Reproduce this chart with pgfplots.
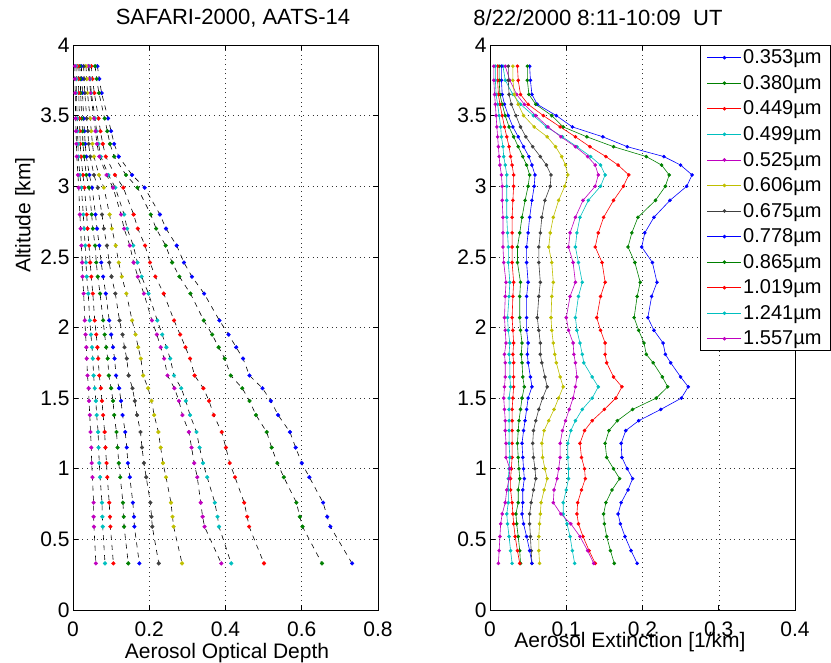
\documentclass[border=0pt]{standalone}
\usepackage{fontspec}
\setmainfont{Liberation Sans}
\usepackage{pgfplots}
\usepackage{pgfplotstable}
\pgfplotsset{compat=1.18}

% MATLAB-style line colours
\definecolor{mb}{rgb}{0,0,1}
\definecolor{mg}{rgb}{0,0.5,0}
\definecolor{mr}{rgb}{1,0,0}
\definecolor{mc}{rgb}{0,0.75,0.75}
\definecolor{mm}{rgb}{0.75,0,0.75}
\definecolor{my}{rgb}{0.75,0.75,0}
\definecolor{mk}{rgb}{0.25,0.25,0.25}

% aerosol optical depth, one column per wavelength
\pgfplotstableread{
alt  a1    a2    a3    a4    a5    a6    a7    a8    a9    a10   a11   a12
3.85 0.064 0.058 0.048 0.042 0.040 0.034 0.028 0.022 0.018 0.013 0.008 0.005
3.76 0.069 0.062 0.051 0.045 0.043 0.036 0.029 0.023 0.019 0.014 0.009 0.005
3.66 0.075 0.068 0.056 0.048 0.046 0.038 0.031 0.025 0.020 0.015 0.009 0.006
3.48 0.092 0.083 0.067 0.058 0.055 0.045 0.036 0.028 0.023 0.017 0.011 0.007
3.39 0.100 0.090 0.072 0.062 0.059 0.048 0.039 0.030 0.025 0.018 0.012 0.008
3.30 0.108 0.097 0.078 0.067 0.063 0.051 0.041 0.032 0.026 0.019 0.013 0.009
3.21 0.120 0.108 0.086 0.073 0.069 0.055 0.045 0.035 0.029 0.021 0.014 0.010
3.08 0.155 0.139 0.110 0.093 0.088 0.068 0.055 0.043 0.035 0.026 0.018 0.013
2.99 0.188 0.169 0.132 0.111 0.105 0.081 0.065 0.050 0.042 0.030 0.022 0.015
2.80 0.228 0.204 0.159 0.134 0.126 0.096 0.076 0.059 0.049 0.036 0.027 0.018
2.70 0.244 0.218 0.170 0.142 0.134 0.102 0.081 0.063 0.052 0.038 0.029 0.020
2.58 0.272 0.243 0.189 0.158 0.149 0.112 0.089 0.069 0.058 0.042 0.032 0.022
2.46 0.291 0.260 0.202 0.169 0.159 0.120 0.095 0.074 0.061 0.045 0.034 0.024
2.36 0.312 0.279 0.216 0.180 0.170 0.128 0.101 0.079 0.065 0.048 0.036 0.025
2.24 0.344 0.308 0.238 0.198 0.186 0.140 0.111 0.086 0.071 0.052 0.040 0.028
2.05 0.384 0.343 0.265 0.221 0.207 0.155 0.122 0.095 0.079 0.057 0.044 0.031
1.95 0.408 0.365 0.281 0.234 0.220 0.164 0.130 0.100 0.083 0.061 0.047 0.033
1.86 0.428 0.382 0.295 0.245 0.230 0.171 0.135 0.105 0.087 0.064 0.050 0.035
1.78 0.446 0.398 0.307 0.255 0.239 0.178 0.141 0.109 0.091 0.066 0.052 0.036
1.66 0.463 0.414 0.319 0.265 0.248 0.184 0.146 0.113 0.094 0.069 0.054 0.038
1.57 0.497 0.444 0.342 0.284 0.266 0.197 0.156 0.121 0.100 0.073 0.057 0.041
1.48 0.519 0.463 0.357 0.296 0.278 0.206 0.162 0.126 0.105 0.076 0.060 0.042
1.38 0.538 0.480 0.369 0.307 0.287 0.213 0.168 0.130 0.108 0.079 0.062 0.044
1.26 0.569 0.508 0.390 0.324 0.304 0.224 0.177 0.137 0.114 0.083 0.066 0.046
1.15 0.584 0.521 0.401 0.332 0.311 0.230 0.181 0.141 0.117 0.085 0.067 0.048
1.04 0.600 0.536 0.411 0.341 0.318 0.236 0.186 0.144 0.120 0.088 0.069 0.049
0.94 0.620 0.553 0.425 0.352 0.326 0.244 0.192 0.149 0.124 0.090 0.071 0.051
0.76 0.656 0.586 0.449 0.372 0.335 0.257 0.203 0.157 0.131 0.095 0.076 0.054
0.66 0.667 0.595 0.457 0.379 0.340 0.261 0.206 0.160 0.133 0.097 0.077 0.054
0.59 0.675 0.602 0.462 0.383 0.345 0.264 0.208 0.161 0.134 0.098 0.078 0.055
0.33 0.732 0.653 0.501 0.415 0.389 0.286 0.225 0.174 0.145 0.106 0.084 0.060
}\aod

% aerosol extinction [1/km]
\pgfplotstableread{
alt  e1    e2    e3    e4    e5    e6    e7    e8    e9    e10   e11   e12
3.85 0.052 0.049 0.036 0.017 0.020 0.030 0.024 0.015 0.012 0.010 0.007 0.005
3.75 0.053 0.049 0.037 0.020 0.026 0.030 0.024 0.015 0.012 0.010 0.007 0.005
3.65 0.055 0.051 0.040 0.030 0.035 0.032 0.025 0.016 0.013 0.011 0.008 0.006
3.58 0.062 0.060 0.050 0.040 0.045 0.037 0.028 0.019 0.016 0.013 0.010 0.007
3.50 0.087 0.081 0.070 0.057 0.060 0.044 0.034 0.024 0.020 0.016 0.012 0.008
3.42 0.108 0.096 0.092 0.074 0.076 0.058 0.040 0.030 0.025 0.019 0.014 0.009
3.35 0.148 0.127 0.112 0.095 0.093 0.075 0.047 0.037 0.031 0.022 0.015 0.010
3.28 0.180 0.162 0.131 0.114 0.112 0.086 0.056 0.044 0.037 0.025 0.017 0.011
3.21 0.228 0.205 0.152 0.132 0.128 0.094 0.066 0.051 0.043 0.027 0.018 0.012
3.15 0.250 0.225 0.168 0.145 0.138 0.099 0.074 0.055 0.048 0.029 0.020 0.013
3.08 0.265 0.235 0.182 0.151 0.142 0.102 0.080 0.059 0.052 0.031 0.022 0.015
3.00 0.258 0.230 0.175 0.145 0.138 0.098 0.079 0.058 0.050 0.031 0.022 0.016
2.90 0.236 0.217 0.162 0.129 0.122 0.090 0.072 0.055 0.046 0.030 0.022 0.016
2.78 0.215 0.194 0.149 0.118 0.112 0.083 0.068 0.052 0.042 0.029 0.022 0.017
2.67 0.203 0.186 0.142 0.114 0.105 0.079 0.066 0.050 0.039 0.029 0.023 0.017
2.57 0.199 0.181 0.138 0.112 0.103 0.077 0.064 0.048 0.036 0.029 0.024 0.017
2.46 0.213 0.190 0.147 0.116 0.109 0.081 0.064 0.048 0.036 0.029 0.024 0.018
2.32 0.219 0.197 0.151 0.121 0.112 0.083 0.066 0.050 0.040 0.031 0.026 0.021
2.22 0.212 0.193 0.145 0.116 0.105 0.081 0.064 0.048 0.039 0.030 0.025 0.020
2.07 0.207 0.189 0.140 0.112 0.100 0.080 0.062 0.048 0.039 0.029 0.023 0.019
1.98 0.215 0.195 0.145 0.114 0.103 0.081 0.064 0.048 0.040 0.030 0.024 0.020
1.89 0.227 0.202 0.151 0.118 0.109 0.083 0.066 0.050 0.042 0.031 0.026 0.021
1.81 0.230 0.205 0.151 0.121 0.110 0.085 0.066 0.049 0.041 0.030 0.025 0.019
1.75 0.237 0.214 0.153 0.123 0.112 0.087 0.068 0.050 0.042 0.031 0.026 0.020
1.65 0.250 0.226 0.162 0.134 0.114 0.092 0.072 0.053 0.043 0.031 0.026 0.020
1.58 0.260 0.233 0.173 0.142 0.112 0.096 0.075 0.055 0.045 0.031 0.027 0.019
1.50 0.251 0.218 0.165 0.134 0.109 0.090 0.069 0.050 0.042 0.030 0.025 0.018
1.42 0.224 0.187 0.150 0.121 0.104 0.084 0.064 0.048 0.040 0.029 0.025 0.019
1.34 0.195 0.167 0.134 0.112 0.099 0.077 0.060 0.046 0.038 0.029 0.025 0.020
1.27 0.178 0.156 0.124 0.106 0.095 0.071 0.057 0.044 0.037 0.029 0.025 0.020
1.18 0.172 0.151 0.118 0.102 0.092 0.068 0.056 0.042 0.036 0.029 0.025 0.021
1.08 0.173 0.153 0.120 0.102 0.092 0.069 0.057 0.043 0.037 0.029 0.026 0.021
1.00 0.180 0.162 0.124 0.103 0.090 0.072 0.059 0.044 0.038 0.028 0.025 0.026
0.93 0.187 0.170 0.125 0.103 0.088 0.075 0.060 0.045 0.039 0.027 0.024 0.025
0.85 0.181 0.160 0.120 0.100 0.084 0.071 0.057 0.043 0.037 0.027 0.024 0.022
0.76 0.172 0.152 0.115 0.096 0.083 0.067 0.054 0.043 0.037 0.029 0.024 0.020
0.68 0.168 0.149 0.114 0.096 0.093 0.066 0.052 0.042 0.034 0.030 0.022 0.016
0.61 0.171 0.150 0.116 0.101 0.106 0.065 0.052 0.044 0.035 0.031 0.023 0.014
0.52 0.177 0.153 0.122 0.105 0.118 0.064 0.053 0.048 0.037 0.033 0.025 0.013
0.42 0.185 0.158 0.130 0.108 0.128 0.064 0.054 0.052 0.039 0.036 0.027 0.012
0.33 0.193 0.163 0.138 0.111 0.136 0.065 0.055 0.055 0.040 0.039 0.029 0.011
}\ext

\pgfplotsset{
  panel/.style={
    scale only axis, width=305pt, height=565pt,
    ymin=0, ymax=4,
    ytick={0,0.5,1,1.5,2,2.5,3,3.5,4},
    grid=major,
    grid style={black!80, line width=0.5pt, dash pattern=on 0.7pt off 4pt},
    axis line style={line width=0.8pt},
    tick align=inside, major tick length=5pt,
    tick style={black, line width=0.6pt},
    tick label style={font=\fontsize{21}{24}\selectfont},
    xticklabel style={yshift=-8pt},
    /pgf/number format/assume math mode=true,
  },
  fit/.style={black, line width=0.6pt, dash pattern=on 5pt off 5pt},
  pts/.style={only marks, mark=*, mark size=1.9pt, color=#1},
  prof/.style={color=#1, line width=0.6pt, mark=*, mark size=1.5pt},
}

\begin{document}
\begin{tikzpicture}
\path[use as bounding box] (0,0) rectangle (831pt,663pt);

\begin{axis}[panel, at={(73pt,53pt)}, anchor=south west,
    xmin=0, xmax=0.8, xtick={0,0.2,0.4,0.6,0.8}]
\addplot[fit] table[x=a1,y=alt]{\aod};
\addplot[fit] table[x=a2,y=alt]{\aod};
\addplot[fit] table[x=a3,y=alt]{\aod};
\addplot[fit] table[x=a4,y=alt]{\aod};
\addplot[fit] table[x=a5,y=alt]{\aod};
\addplot[fit] table[x=a6,y=alt]{\aod};
\addplot[fit] table[x=a7,y=alt]{\aod};
\addplot[fit] table[x=a8,y=alt]{\aod};
\addplot[fit] table[x=a9,y=alt]{\aod};
\addplot[fit] table[x=a10,y=alt]{\aod};
\addplot[fit] table[x=a11,y=alt]{\aod};
\addplot[fit] table[x=a12,y=alt]{\aod};
\addplot[pts=mb] table[x=a1,y=alt]{\aod};
\addplot[pts=mg] table[x=a2,y=alt]{\aod};
\addplot[pts=mr] table[x=a3,y=alt]{\aod};
\addplot[pts=mc] table[x=a4,y=alt]{\aod};
\addplot[pts=mm] table[x=a5,y=alt]{\aod};
\addplot[pts=my] table[x=a6,y=alt]{\aod};
\addplot[pts=mk] table[x=a7,y=alt]{\aod};
\addplot[pts=mb] table[x=a8,y=alt]{\aod};
\addplot[pts=mg] table[x=a9,y=alt]{\aod};
\addplot[pts=mr] table[x=a10,y=alt]{\aod};
\addplot[pts=mc] table[x=a11,y=alt]{\aod};
\addplot[pts=mm] table[x=a12,y=alt]{\aod};
\end{axis}

\begin{axis}[panel, at={(490pt,53pt)}, anchor=south west,
    xmin=0, xmax=0.4, xtick={0,0.1,0.2,0.3,0.4},
    legend style={at={(1.116,1)}, anchor=north east, draw=black, line width=0.8pt,
      fill=white, font=\fontsize{20}{23}\selectfont, row sep=7.1pt,
      inner xsep=7pt, inner ysep=3pt,
      nodes={inner sep=1.5pt}},
    legend cell align=left,
    legend image code/.code={\draw[mark repeat=2, mark phase=2, #1]
      plot coordinates {(0pt,0pt) (17pt,0pt) (34pt,0pt)};}]
\addplot[prof=mb] table[x=e1,y=alt]{\ext};  \addlegendentry{0.353µm}
\addplot[prof=mg] table[x=e2,y=alt]{\ext};  \addlegendentry{0.380µm}
\addplot[prof=mr] table[x=e3,y=alt]{\ext};  \addlegendentry{0.449µm}
\addplot[prof=mc] table[x=e4,y=alt]{\ext};  \addlegendentry{0.499µm}
\addplot[prof=mm] table[x=e5,y=alt]{\ext};  \addlegendentry{0.525µm}
\addplot[prof=my] table[x=e6,y=alt]{\ext};  \addlegendentry{0.606µm}
\addplot[prof=mk] table[x=e7,y=alt]{\ext};  \addlegendentry{0.675µm}
\addplot[prof=mb] table[x=e8,y=alt]{\ext};  \addlegendentry{0.778µm}
\addplot[prof=mg] table[x=e9,y=alt]{\ext};  \addlegendentry{0.865µm}
\addplot[prof=mr] table[x=e10,y=alt]{\ext}; \addlegendentry{1.019µm}
\addplot[prof=mc] table[x=e11,y=alt]{\ext}; \addlegendentry{1.241µm}
\addplot[prof=mm] table[x=e12,y=alt]{\ext}; \addlegendentry{1.557µm}
\end{axis}

% titles and axis labels
\begin{scope}[every node/.style={font=\fontsize{21}{24}\selectfont, inner sep=0pt}]
\node[font=\fontsize{22}{25}\selectfont] at (233pt,645pt) {SAFARI-2000, AATS-14};
\node[font=\fontsize{22}{25}\selectfont] at (598pt,645pt) {8/22/2000 8:11-10:09\ \ UT};
\node at (227pt,10pt) {Aerosol Optical Depth};
\node at (630pt,21pt) {Aerosol Extinction [1/km]};
\node[rotate=90] at (25pt,448pt) {Altitude [km]};
\end{scope}
\end{tikzpicture}
\end{document}
